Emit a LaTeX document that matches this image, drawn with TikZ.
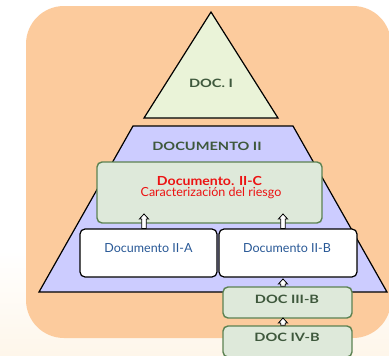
\documentclass[tikz,border=0pt]{standalone}
\usepackage{fontspec}
\setmainfont{Lato}
\newfontfamily\headfam{Lato}[FakeStretch=1.27]
\newfontfamily\titlefam{Lato}[FakeStretch=1.13]
\usetikzlibrary{calc}

\definecolor{peach}{RGB}{252,203,157}
\definecolor{apexfill}{RGB}{234,243,216}
\definecolor{lavender}{RGB}{204,204,255}
\definecolor{sage}{RGB}{222,233,218}
\definecolor{sageline}{RGB}{92,130,82}
\definecolor{darkgreen}{RGB}{62,88,60}
\definecolor{docblue}{RGB}{40,88,150}
\definecolor{docred}{RGB}{236,18,18}
\definecolor{cream}{RGB}{254,246,234}

\newcommand\headfont{\headfam\bfseries\fontsize{11.5}{13}\selectfont}
\newcommand\bodyfont{\fontsize{12.5}{14}\selectfont}

\tikzset{
  tier/.style={draw=black, line width=1.2pt, line join=miter},
  sagebox/.style={draw=sageline, fill=sage, line width=1.4pt, rounded corners=5pt,
    minimum width=129pt, minimum height=31pt, inner sep=0pt},
  whitebox/.style={draw=black, fill=white, line width=1.2pt, rounded corners=5pt,
    minimum width=137pt, minimum height=48pt, inner sep=0pt},
  headtext/.style={text=darkgreen, font=\headfont, inner sep=0pt},
  bluetext/.style={text=docblue, font=\bodyfont, inner sep=0pt, anchor=base},
  redtext/.style={text=docred, inner sep=0pt, anchor=base},
  blockup/.style={draw=black, fill=white, line width=0.8pt, line join=miter,
    to path={let \p1=(\tikztostart), \p2=(\tikztotarget) in
      (\x1-2.3pt,\y1) -- (\x1-2.3pt,\y2-5pt) -- (\x1-4.6pt,\y2-5pt) -- (\x2,\y2)
      -- (\x1+4.6pt,\y2-5pt) -- (\x1+2.3pt,\y2-5pt) -- (\x1+2.3pt,\y1) -- cycle}},
}

\begin{document}
\begin{tikzpicture}[x=1pt,y=-1pt]
\useasboundingbox (0,0) rectangle (389,356);
% page ground with a light cream foot
\fill[white] (0,0) rectangle (389,356);
\shade[top color=white, bottom color=cream] (0,250) rectangle (389,356);
% rounded backdrop
\fill[peach, rounded corners=38pt] (26,6) rectangle (391,338);

% apex of the pyramid
\draw[tier, fill=apexfill] (211,12) -- (278,118) -- (144,118) -- cycle;
\node[headtext] (doci) at (211,83) {DOC. I};

% middle tier
\draw[tier, fill=lavender] (133,126) -- (293,126) -- (387,292) -- (39,292) -- cycle;
\node[headtext] (docii) at (207,146) {DOCUMENTO II};

% document II-C
\node[sagebox, minimum width=225pt, minimum height=61pt] (iic) at (209.5,192.5) {};
\node[redtext, font=\titlefam\bfseries\fontsize{12.5}{14}\selectfont] (iictitle) at (209.5,185) {Documento. II-C};
\node[redtext, font=\fontsize{12.5}{14}\selectfont] (iicsub) at (211,196.5) {Caracterización del riesgo};

% documents II-A and II-B
\node[whitebox] (iia) at (148.5,253) {};
\node[bluetext] (iiatext) at (148.5,252) {Documento II-A};
\node[whitebox, minimum width=138pt] (iib) at (288,253) {};
\node[bluetext] (iibtext) at (287,252) {Documento II-B};

% documents III-B and IV-B
\node[sagebox] (iiib) at (287.5,302.5) {};
\node[headtext, anchor=base] (iiibtext) at (287,303) {DOC III-B};
\node[sagebox] (ivb) at (287.5,341.5) {};
\node[headtext, anchor=base] (ivbtext) at (287,341) {DOC IV-B};

% hollow block arrows
\coordinate (t1) at (144,214);
\coordinate (t2) at (283,214);
\coordinate (t3) at (283,279);
\coordinate (t4) at (283,318);
\draw[blockup] (iia.north -| t1) to (t1);
\draw[blockup] (iib.north -| t2) to (t2);
\draw[blockup] (iiib.north -| t3) to (t3);
\draw[blockup] (ivb.north -| t4) to (t4);
\end{tikzpicture}
\end{document}
